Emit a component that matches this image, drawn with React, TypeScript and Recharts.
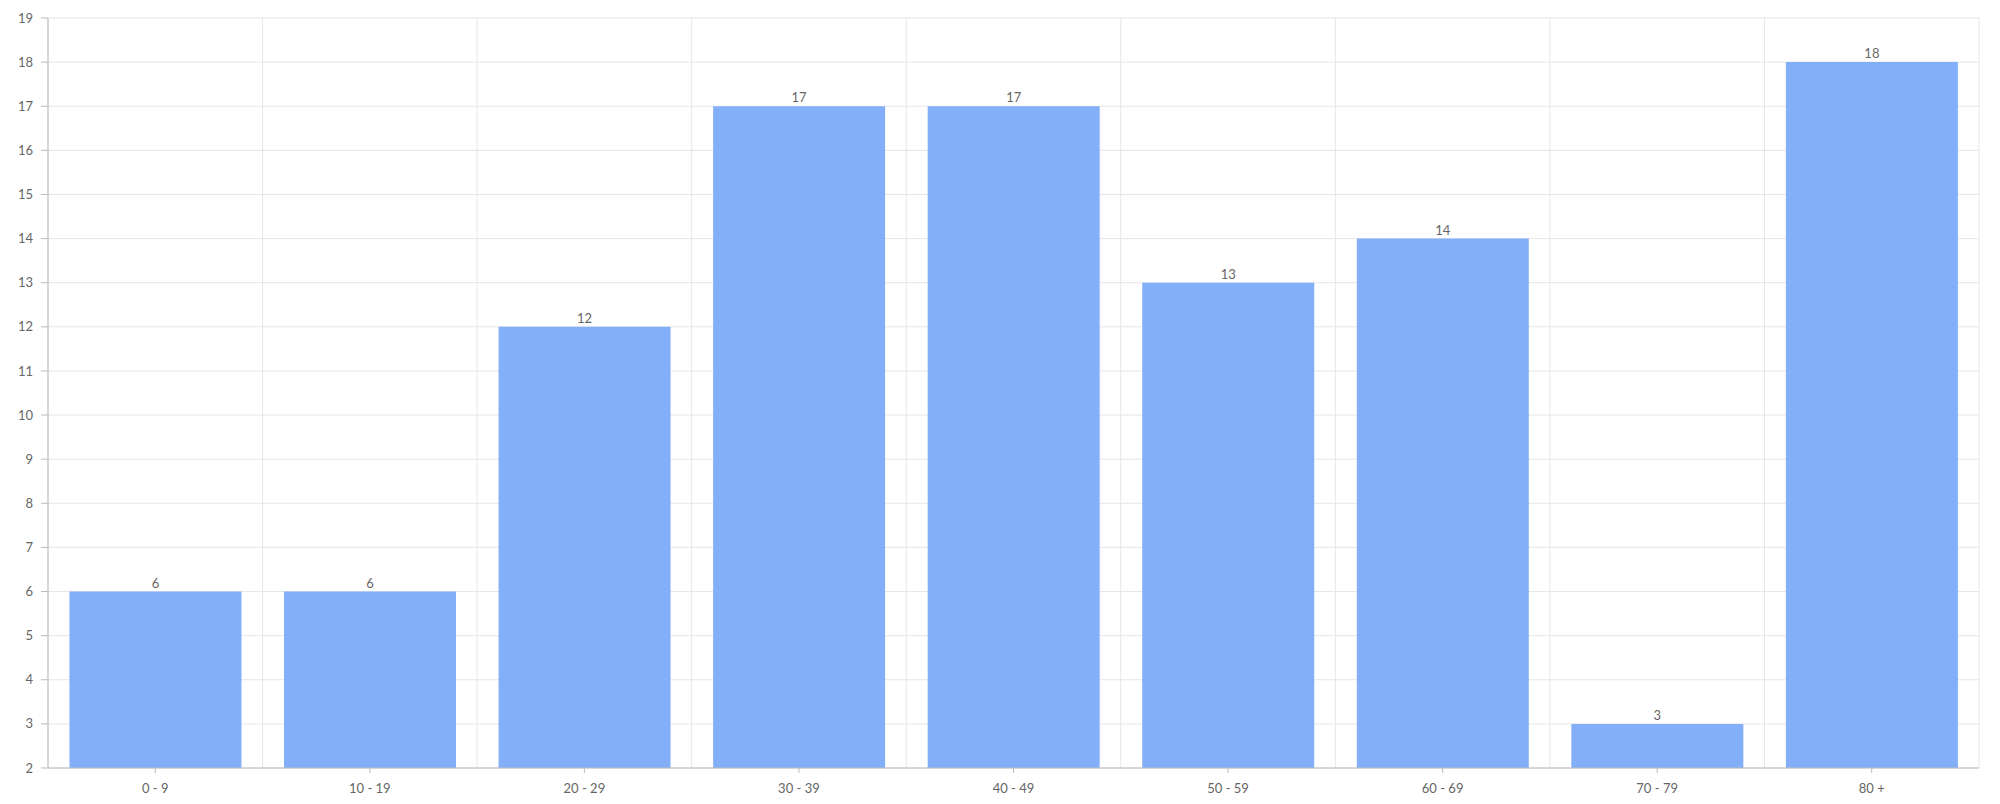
import React from "react";
import { BarChart, Bar, XAxis, YAxis, CartesianGrid, LabelList } from "recharts";

const categories = ["0 - 9", "10 - 19", "20 - 29", "30 - 39", "40 - 49", "50 - 59", "60 - 69", "70 - 79", "80 +"];
const counts = [6, 6, 12, 17, 17, 13, 14, 3, 18];
const yTicks = [2, 3, 4, 5, 6, 7, 8, 9, 10, 11, 12, 13, 14, 15, 16, 17, 18, 19];

const data = categories.map((c, i) => ({ name: c, value: counts[i] }));

const FONT = "Lato, 'Open Sans', sans-serif";

export default function App() {
  const verticalGen = ({ offset }: any) => {
    const n = categories.length;
    const pts: number[] = [];
    for (let i = 0; i <= n; i++) pts.push(offset.left + (offset.width * i) / n);
    return pts;
  };
  return (
    <div style={{ position: "absolute", left: 0, top: 0, width: 2000, height: 804, background: "#fff" }}>
      <BarChart
        width={2000}
        height={804}
        data={data}
        margin={{ top: 18, right: 21, left: 0, bottom: 0 }}
        barCategoryGap="10%"
      >
        <CartesianGrid stroke="#e6e6e6" verticalCoordinatesGenerator={verticalGen} />
        <XAxis
          dataKey="name"
          height={36}
          tickSize={5}
          tickMargin={11}
          stroke="#bbbbbb"
          tick={{ fill: "#666", fontSize: 13, fontFamily: FONT }}
        />
        <YAxis
          width={48}
          domain={[2, 19]}
          ticks={yTicks}
          interval={0}
          tickSize={7}
          tickMargin={8}
          stroke="#bbbbbb"
          tick={{ fill: "#666", fontSize: 13, fontFamily: FONT }}
        />
        <Bar dataKey="value" fill="#82aff8" isAnimationActive={false}>
          <LabelList dataKey="value" position="top" offset={4} fill="#666" fontSize={13} fontFamily={FONT} />
        </Bar>
      </BarChart>
    </div>
  );
}
